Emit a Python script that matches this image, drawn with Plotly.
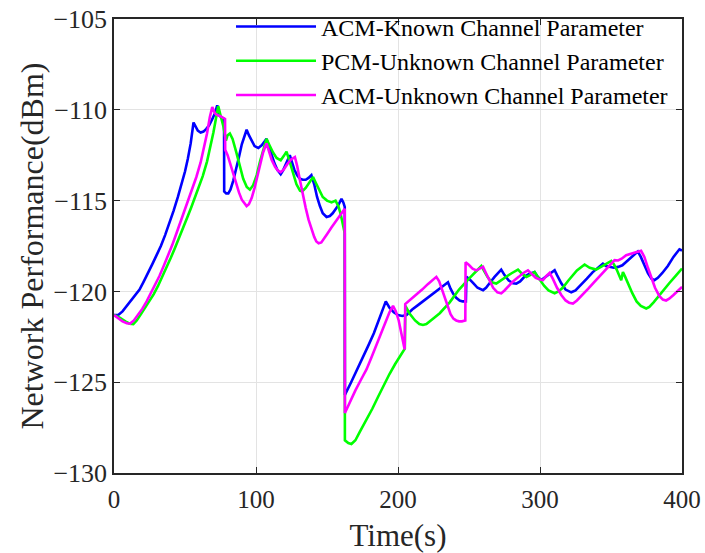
import plotly.graph_objects as go

# ---- data ----
t_acm_known = [0, 3, 6, 9, 12, 15, 18, 21, 24, 27, 30, 33, 36, 39, 42, 45, 48, 50, 52, 54, 56,
               57.5, 59, 61, 63, 65, 67, 69, 71, 72.7, 74, 75.5, 77.5,
               77.6, 79, 80.5, 82, 84, 86, 88, 90, 92, 93.4, 95, 97, 99, 101.6, 104, 106, 107.4,
               109, 111, 113, 115, 117.4, 119, 121, 123.8, 125, 127, 129, 131, 133, 135, 137,
               139, 141, 143, 145, 147, 149.7, 152, 154, 156, 158, 160.2, 161.5, 162.5,
               162.6, 167, 171, 175, 179, 183, 187, 191.4, 194, 197, 200, 203, 206, 210, 215,
               220, 225, 230, 235.2, 237, 239, 241, 243.4, 245.5, 247.8,
               248.2, 250, 253, 256, 259.9, 262, 265, 268, 272.7, 275, 278, 281, 283.3, 286,
               289, 292, 296.2, 298.5, 300.9, 303, 306, 310.3, 312, 315, 318, 322, 325, 329,
               333, 337, 340, 344.3, 346.5, 349, 352, 355, 358, 361, 365, 368.9, 371, 373.5,
               376, 378.5, 380.6, 383, 386, 390, 394, 398.2, 400]
y_acm_known = [-121.3, -121.3, -121.1, -120.8, -120.5, -120.2, -119.9, -119.45, -119.0, -118.5,
               -118.0, -117.5, -116.9, -116.25, -115.55, -114.8, -114.0, -113.4, -112.7, -111.85,
               -110.7, -110.95, -111.15, -111.25, -111.2, -111.05, -110.85, -110.55, -110.2,
               -109.75, -110.2, -110.45, -110.5,
               -114.5, -114.6, -114.6, -114.4, -113.9, -113.3, -112.6, -111.9, -111.35, -111.1,
               -111.4, -111.75, -112.0, -112.1, -111.95, -111.75, -111.6, -112.0, -112.5, -112.95,
               -113.3, -113.55, -113.35, -113.0, -112.5, -112.8, -113.3, -113.6, -113.8, -113.85,
               -113.85, -113.75, -113.6, -114.1, -114.8, -115.3, -115.7, -115.9, -115.85, -115.7,
               -115.5, -115.25, -114.9, -115.1, -115.35,
               -125.7, -125.0, -124.35, -123.7, -123.0, -122.3, -121.5, -120.55, -120.9, -121.15,
               -121.3, -121.35, -121.3, -121.0, -120.7, -120.4, -120.1, -119.8, -119.5, -119.85,
               -120.15, -120.35, -120.5, -120.55, -120.55,
               -119.2, -119.3, -119.55, -119.8, -119.93, -119.8, -119.5, -119.2, -118.8, -119.1,
               -119.4, -119.55, -119.57, -119.45, -119.2, -119.05, -118.93, -119.2, -119.38,
               -119.25, -119.05, -118.83, -119.1, -119.55, -119.9, -120.05, -119.95, -119.65,
               -119.3, -118.95, -118.75, -118.47, -118.6, -118.65, -118.7, -118.65, -118.56,
               -118.35, -118.05, -117.8, -118.1, -118.6, -119.0, -119.3, -119.38, -119.25,
               -119.0, -118.6, -118.1, -117.68, -117.75]

t_pcm_unknown = [0, 4, 8, 11, 13.6, 16, 19, 22, 25, 28, 31, 34, 37, 40, 43, 46, 49, 52, 54.5,
                 57, 60, 62.5, 65.5, 68, 70, 72, 73.4, 75, 77, 78.8, 80, 81.6, 83.5, 86, 88.5,
                 91, 93.5, 95.7, 98, 100.5, 103, 105.5, 107.4, 109.5, 112, 114.5, 117.4, 119.5,
                 121.5, 123.5, 126, 128.5, 131, 132.5, 135, 137.5, 140.2, 142, 144.5, 147, 150,
                 153.2, 156, 158, 159.5, 161, 162.5,
                 162.6, 165, 167.2, 170, 173, 177.8, 182, 186, 190, 194, 198, 201, 204.8,
                 205.2, 208, 212, 215, 217.6, 220, 224, 229.4, 236.4, 243, 250, 255, 258.7,
                 260.5, 263, 266, 269.2, 271.5, 274, 277, 280, 284.5, 287, 290.4, 293, 296.2,
                 298, 300, 303, 306, 310.3, 313, 316, 320, 323, 326, 331.4, 333, 335, 339.6,
                 342, 345, 350.2, 352, 354, 357.2, 358.4, 360, 362, 365, 368, 371, 374.8, 377,
                 380, 384, 387, 391, 396, 400]
y_pcm_unknown = [-121.3, -121.45, -121.65, -121.78, -121.8, -121.6, -121.25, -120.9, -120.55,
                 -120.15, -119.7, -119.2, -118.7, -118.15, -117.6, -117.05, -116.45, -115.85,
                 -115.35, -114.85, -114.25, -113.65, -112.85, -112.05, -111.25, -110.4, -109.8,
                 -110.3, -110.9, -111.7, -111.4, -111.3, -111.6, -112.3, -113.1, -113.8, -114.25,
                 -114.4, -114.15, -113.6, -112.8, -112.1, -111.6, -111.95, -112.35, -112.65,
                 -112.78, -112.55, -112.3, -112.8, -113.5, -114.1, -114.45, -114.5, -114.3, -114.0,
                 -113.7, -114.0, -114.45, -114.8, -115.0, -115.1, -115.0, -115.3, -115.7, -116.2,
                 -116.8,
                 -128.2, -128.35, -128.4, -128.2, -127.75, -127.1, -126.45, -125.8, -125.15,
                 -124.55, -124.0, -123.6, -123.15,
                 -120.8, -121.2, -121.6, -121.8, -121.85, -121.8, -121.55, -121.2, -120.6, -119.9,
                 -119.3, -118.9, -118.6, -118.85, -119.2, -119.5, -119.57, -119.45, -119.3, -119.15,
                 -119.0, -118.8, -119.0, -119.2, -119.1, -118.93, -119.15, -119.4, -119.7, -119.95,
                 -120.1, -120.0, -119.8, -119.4, -119.1, -118.85, -118.52, -118.6, -118.7, -118.8,
                 -118.7, -118.55, -118.32, -118.5, -118.8, -119.38, -118.93, -119.2, -119.6,
                 -120.1, -120.55, -120.8, -120.94, -120.85, -120.6, -120.2, -119.9, -119.55,
                 -119.1, -118.74]

t_acm_unknown = [0, 3, 6, 9, 11.3, 14, 17, 20, 23, 26, 29, 32, 35, 38, 41, 44, 47, 50, 52.3, 55,
                 58, 61, 63.5, 65.5, 67.5, 69.2, 71.1, 73, 75, 77, 78.2,
                 78.3, 80, 82, 84, 86, 88, 90, 92, 93.4, 95, 97, 99, 101, 103, 105, 107.4, 109,
                 111, 113.5, 115.5, 117.4, 119.5, 122, 124.5, 127.4, 129, 131, 133, 135, 137,
                 139, 141, 142.5, 144.1, 146, 148, 150, 153, 156, 159, 162.5,
                 162.6, 166, 170, 174, 177.8, 181, 185, 188, 191, 194, 196.5, 198.5, 200.5,
                 202.5, 204.7,
                 205.1, 209, 213, 217, 221, 224, 227, 229, 231, 233, 235, 237, 239, 241, 243,
                 245, 247.4,
                 247.6, 250, 252.5, 255.2, 257.5, 259.9, 262, 264.5, 267, 270, 272.7, 275, 278,
                 281, 285, 288, 291.5, 294, 297, 300, 302.1, 304.5, 306.8, 309, 312, 315, 318,
                 320.5, 323.2, 326, 330, 334, 338, 342, 346, 350, 352.5, 355, 357.5, 360.7, 364,
                 367.5, 371.2, 373.5, 376, 378.5, 381, 384, 386.5, 388.8, 391, 394, 397, 400]
y_acm_unknown = [-121.3, -121.5, -121.65, -121.75, -121.77, -121.6, -121.3, -120.95, -120.55,
                 -120.1, -119.65, -119.15, -118.6, -118.05, -117.45, -116.8, -116.15, -115.5,
                 -114.98, -114.4, -113.7, -112.9, -112.1, -111.3, -110.4, -109.85, -110.2, -110.3,
                 -110.35, -110.45, -110.5,
                 -112.2, -112.5, -113.0, -113.55, -114.1, -114.55, -114.95, -115.2, -115.3, -115.2,
                 -114.85, -114.3, -113.6, -112.95, -112.35, -111.85, -112.3, -112.75, -113.15,
                 -113.35, -113.43, -113.3, -113.0, -112.75, -112.6, -113.1, -113.9, -114.7,
                 -115.4, -116.05, -116.6, -117.0, -117.25, -117.35, -117.3, -117.1, -116.85,
                 -116.5, -116.15, -115.8, -115.45,
                 -126.7, -126.1, -125.45, -124.85, -124.3, -123.7, -122.9, -122.3, -121.7,
                 -121.15, -120.8, -121.1, -121.6, -122.3, -123.2,
                 -120.7, -120.45, -120.15, -119.9, -119.6, -119.4, -119.2, -119.45, -119.9,
                 -120.4, -120.85, -121.25, -121.5, -121.6, -121.65, -121.65, -121.6,
                 -118.4, -118.55, -118.75, -118.84, -118.75, -118.65, -119.0, -119.45, -119.8,
                 -120.05, -120.11, -119.95, -119.7, -119.45, -119.2, -119.0, -118.84, -119.05,
                 -119.25, -119.35, -119.38, -119.15, -118.98, -119.3, -119.8, -120.2, -120.5,
                 -120.62, -120.67, -120.5, -120.2, -119.85, -119.5, -119.15, -118.8, -118.45,
                 -118.28, -118.3, -118.2, -118.01, -117.95, -117.85, -117.77, -118.1, -118.7,
                 -119.3, -119.8, -120.25, -120.45, -120.5, -120.4, -120.2, -120.0, -119.75]

series_names = ["ACM-Known Channel Parameter", "PCM-Unknown Channel Parameter",
                "ACM-Unknown Channel Parameter"]
series_colors = ["#0000FF", "#00FF00", "#FF00FF"]

x_ticks = [0, 100, 200, 300, 400]
y_ticks = [-130, -125, -120, -115, -110, -105]

FONT = "Liberation Serif"
AX = "#262626"

fig = go.Figure()
for name, col, tx, ty in zip(series_names, series_colors,
                             [t_acm_known, t_pcm_unknown, t_acm_unknown],
                             [y_acm_known, y_pcm_unknown, y_acm_unknown]):
    fig.add_trace(go.Scatter(x=tx, y=ty, mode="lines", name=name,
                             line=dict(color=col, width=2.6, shape="linear")))

axis_common = dict(showline=True, linecolor=AX, linewidth=1.5, mirror="allticks",
                   ticks="inside", ticklen=6, tickcolor=AX, tickwidth=1.2,
                   showgrid=True, gridcolor="#e3e3e3", gridwidth=1, zeroline=False)

fig.update_xaxes(range=[0, 400], tickvals=x_ticks, ticktext=[str(v) for v in x_ticks],
                 ticklabelstandoff=3, tickfont=dict(family=FONT, size=25, color=AX),
                 title=dict(text="Time(s)", font=dict(family=FONT, size=31, color=AX), standoff=14),
                 **axis_common)
fig.update_yaxes(range=[-130, -105], tickvals=y_ticks,
                 ticktext=["\u2212" + str(-v) if v < 0 else str(v) for v in y_ticks],
                 tickfont=dict(family=FONT, size=26, color=AX),
                 title=dict(text="Network Performance(dBm)", font=dict(family=FONT, size=32, color=AX), standoff=0),
                 **axis_common)

fig.update_layout(
    width=705, height=553,
    margin=dict(l=114, r=22.5, t=18.5, b=80, autoexpand=False),
    paper_bgcolor="white", plot_bgcolor="white",
    font=dict(family=FONT, color=AX),
    legend=dict(x=0.206, y=1.032, xanchor="left", yanchor="top",
                bgcolor="rgba(0,0,0,0)", borderwidth=0, itemwidth=80,
                font=dict(family=FONT, size=24, color="black"), tracegroupgap=0),
    showlegend=True,
)

fig.write_html("out.html")
